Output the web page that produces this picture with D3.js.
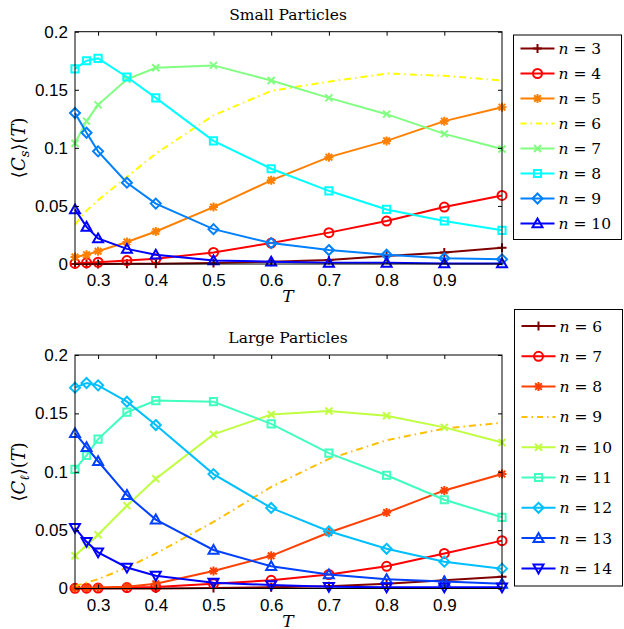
<!DOCTYPE html>
<html>
<head>
<meta charset="utf-8">
<script src="https://cdn.jsdelivr.net/npm/d3@7"></script>
<style>
  body { margin: 0; background: #fff; }
  svg text { fill: #000; }
</style>
</head>
<body>
<div class="chart"></div>
<script>
// temperatures (shared x values)
const T = [0.26, 0.28, 0.30, 0.35, 0.40, 0.50, 0.60, 0.70, 0.80, 0.90, 1.00];
const xTicks = [0.3, 0.4, 0.5, 0.6, 0.7, 0.8, 0.9];
const yTicks = [0, 0.05, 0.1, 0.15, 0.2];

// small particles, n = 3..10
const smallN = [3, 4, 5, 6, 7, 8, 9, 10];
const s3  = [0, 0, 0, 0.0002, 0.0003, 0.0008, 0.002, 0.0034, 0.0068, 0.010, 0.014];
const s4  = [0.0005, 0.001, 0.0015, 0.003, 0.0045, 0.010, 0.018, 0.027, 0.037, 0.049, 0.059];
const s5  = [0.006, 0.008, 0.011, 0.019, 0.028, 0.049, 0.072, 0.092, 0.106, 0.123, 0.135];
const s6  = [0.034, 0.046, 0.055, 0.075, 0.095, 0.128, 0.149, 0.157, 0.164, 0.162, 0.158];
const s7  = [0.104, 0.123, 0.137, 0.159, 0.169, 0.171, 0.158, 0.143, 0.129, 0.112, 0.099];
const s8  = [0.168, 0.175, 0.177, 0.161, 0.143, 0.106, 0.082, 0.063, 0.047, 0.037, 0.029];
const s9  = [0.130, 0.113, 0.097, 0.070, 0.052, 0.030, 0.018, 0.012, 0.008, 0.005, 0.004];
const s10 = [0.047, 0.032, 0.022, 0.013, 0.008, 0.003, 0.002, 0.001, 0.001, 0.0005, 0.0005];

// large particles, n = 6..14
const largeN = [6, 7, 8, 9, 10, 11, 12, 13, 14];
const l6  = [0, 0, 0, 0, 0.0001, 0.0005, 0.001, 0.002, 0.004, 0.007, 0.010];
const l7  = [0.0002, 0.0003, 0.0004, 0.0008, 0.0012, 0.004, 0.007, 0.012, 0.019, 0.030, 0.041];
const l8  = [0.0005, 0.0006, 0.0008, 0.0015, 0.004, 0.015, 0.028, 0.048, 0.065, 0.084, 0.098];
const l9  = [0.002, 0.005, 0.008, 0.018, 0.030, 0.057, 0.087, 0.111, 0.127, 0.137, 0.142];
const l10 = [0.028, 0.037, 0.046, 0.071, 0.094, 0.132, 0.149, 0.152, 0.148, 0.138, 0.125];
const l11 = [0.102, 0.114, 0.128, 0.151, 0.161, 0.160, 0.141, 0.116, 0.097, 0.076, 0.061];
const l12 = [0.172, 0.176, 0.174, 0.160, 0.140, 0.098, 0.069, 0.049, 0.034, 0.023, 0.017];
const l13 = [0.133, 0.121, 0.109, 0.080, 0.059, 0.033, 0.019, 0.012, 0.008, 0.006, 0.004];
const l14 = [0.052, 0.040, 0.031, 0.018, 0.011, 0.005, 0.003, 0.0015, 0.001, 0.001, 0.001];

const markers = ["+", "o", "*", "none", "x", "s", "d", "^", "v"];
const smallColors = ["#800000", "#ff0000", "#ff8000", "#ffff00", "#80ff80", "#00ffff", "#0080ff", "#0000ff"];
const largeColors = ["#800000", "#ff0000", "#ff4000", "#ffbf00", "#bfff40", "#40ffbf", "#00bfff", "#0040ff", "#0000ff"];

const serif = "'DejaVu Serif', serif";

const width = 624, height = 629;
const svg = d3.select(".chart").append("svg")
  .attr("width", width).attr("height", height);

const x = d3.scaleLinear().domain([0.26, 1.0]).range([75, 502]);

function markerPath(m) {
  switch (m) {
    case "+": return "M-4.5,0H4.5M0,-4.5V4.5";
    case "*": return "M-4.5,0H4.5M0,-4.5V4.5M-3.3,-3.3L3.3,3.3M-3.3,3.3L3.3,-3.3";
    case "x": return "M-3.5,-3.5L3.5,3.5M-3.5,3.5L3.5,-3.5";
    case "o": return "M4.5,0A4.5,4.5 0 1,1 -4.5,0A4.5,4.5 0 1,1 4.5,0Z";
    case "s": return "M-3.6,-3.6H3.6V3.6H-3.6Z";
    case "d": return "M0,-5L5,0L0,5L-5,0Z";
    case "^": return "M0,-5L5,3.8H-5Z";
    case "v": return "M0,5L5,-3.8H-5Z";
  }
  return null;
}

function panel(opt) {
  const y = d3.scaleLinear().domain([0, 0.2]).range([opt.bottom, opt.top]);
  const g = svg.append("g");

  // series
  opt.series.forEach((vals, i) => {
    const data = T.map((t, j) => [t, vals[j]]);
    const col = opt.colors[i], m = markers[i];
    g.append("path")
      .datum(data)
      .attr("d", d3.line().x(d => x(d[0])).y(d => y(d[1])))
      .attr("fill", "none")
      .attr("stroke", col)
      .attr("stroke-width", 2)
      .attr("stroke-dasharray", m === "none" ? "7,4,1.5,4" : null);
    if (m !== "none") {
      g.selectAll(null).data(data).join("path")
        .attr("d", markerPath(m))
        .attr("transform", d => `translate(${x(d[0])},${y(d[1])})`)
        .attr("fill", "none")
        .attr("stroke", col)
        .attr("stroke-width", 2);
    }
  });

  // frame and ticks
  g.append("rect")
    .attr("x", 75).attr("y", opt.top)
    .attr("width", 502 - 75).attr("height", opt.bottom - opt.top)
    .attr("fill", "none").attr("stroke", "#000").attr("stroke-width", 1);

  g.append("g").attr("transform", `translate(0,${opt.bottom})`)
    .call(d3.axisBottom(x).tickValues(xTicks).tickSize(-4).tickPadding(10).tickFormat(d3.format(".1f")))
    .call(a => a.select(".domain").remove());
  g.append("g").attr("transform", `translate(0,${opt.top})`)
    .call(d3.axisTop(x).tickValues(xTicks).tickSize(-4).tickFormat(""))
    .call(a => a.select(".domain").remove());
  g.append("g").attr("transform", "translate(75,0)")
    .call(d3.axisLeft(y).tickValues(yTicks).tickSize(-4).tickPadding(7).tickFormat(d => d === 0 ? "0" : String(d)))
    .call(a => a.select(".domain").remove());
  g.append("g").attr("transform", "translate(502,0)")
    .call(d3.axisRight(y).tickValues(yTicks).tickSize(-4).tickFormat(""))
    .call(a => a.select(".domain").remove());

  g.selectAll(".tick text")
    .attr("font-family", "'Liberation Sans', Arial, sans-serif")
    .attr("font-size", 17).attr("fill", "#000");
  g.selectAll(".tick line").attr("stroke", "#000");

  // title
  g.append("text")
    .attr("x", 288).attr("y", opt.top - 12)
    .attr("text-anchor", "middle")
    .attr("font-family", serif)
    .attr("font-size", 15.5)
    .text(opt.title);

  // x label
  g.append("text")
    .attr("x", 288).attr("y", opt.bottom + 38)
    .attr("text-anchor", "middle")
    .attr("font-family", serif)
    .attr("font-style", "italic")
    .attr("font-size", 17)
    .text("T");

  // y label
  const yl = g.append("text")
    .attr("transform", `translate(25,${(opt.top + opt.bottom) / 2}) rotate(-90)`)
    .attr("text-anchor", "middle")
    .attr("font-family", serif)
    .attr("font-size", 18);
  yl.append("tspan").text("\u27e8");
  yl.append("tspan").attr("font-style", "italic").text("C");
  yl.append("tspan").attr("font-style", "italic").attr("font-size", 13).attr("dy", 4).text(opt.sub);
  yl.append("tspan").attr("dy", -4).text("\u27e9(");
  yl.append("tspan").attr("font-style", "italic").text("T");
  yl.append("tspan").text(")");

  // legend
  const lg = svg.append("g");
  lg.append("rect")
    .attr("x", opt.legX).attr("y", opt.legTop)
    .attr("width", opt.legW).attr("height", opt.legH)
    .attr("fill", "#fff").attr("stroke", "#000").attr("stroke-width", 1);
  opt.ns.forEach((n, i) => {
    const yy = opt.legFirst + i * opt.legStep;
    const col = opt.colors[i], m = markers[i];
    lg.append("line")
      .attr("x1", opt.legX + 7).attr("x2", opt.legX + 41)
      .attr("y1", yy).attr("y2", yy)
      .attr("stroke", col).attr("stroke-width", 2)
      .attr("stroke-dasharray", m === "none" ? "6,4,1.5,4" : null);
    if (m !== "none") {
      lg.append("path")
        .attr("d", markerPath(m))
        .attr("transform", `translate(${opt.legX + 24},${yy})`)
        .attr("fill", "none").attr("stroke", col).attr("stroke-width", 2);
    }
    const t = lg.append("text")
      .attr("x", opt.legX + 45).attr("y", yy + 5.5)
      .attr("font-family", serif)
      .attr("font-size", 15.5);
    t.append("tspan").attr("font-style", "italic").text("n");
    t.append("tspan").text(" = " + n);
  });
}

panel({
  title: "Small Particles", sub: "s",
  top: 31.7, bottom: 264,
  series: [s3, s4, s5, s6, s7, s8, s9, s10],
  ns: smallN, colors: smallColors,
  legX: 513.5, legTop: 35, legW: 108, legH: 204.5,
  legFirst: 48.5, legStep: 25
});

panel({
  title: "Large Particles", sub: "\u2113",
  top: 355, bottom: 588.5,
  series: [l6, l7, l8, l9, l10, l11, l12, l13, l14],
  ns: largeN, colors: largeColors,
  legX: 514.5, legTop: 309.5, legW: 108, legH: 276.5,
  legFirst: 326, legStep: 30.3
});
</script>
</body>
</html>
